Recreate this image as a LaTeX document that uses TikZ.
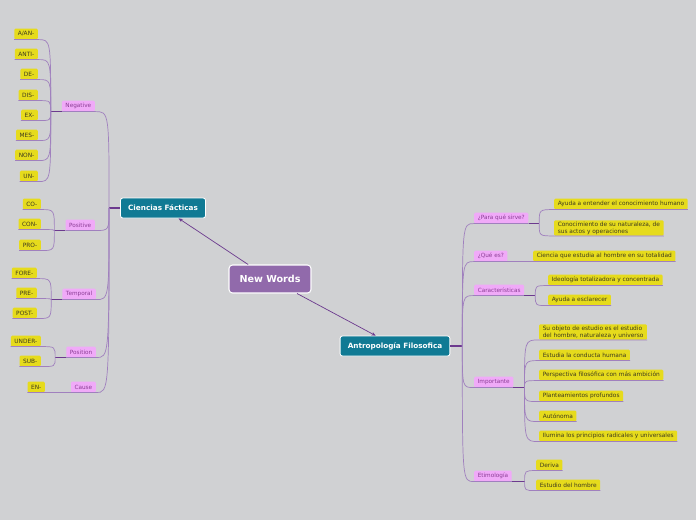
\documentclass[tikz,border=0pt]{standalone}
\usepackage{fontspec}
\setmainfont{DejaVu Sans}
\usetikzlibrary{arrows.meta,calc}
\definecolor{mmgray}{RGB}{208,209,211}
\definecolor{mmyellow}{RGB}{230,219,28}
\definecolor{mmpink}{RGB}{240,170,248}
\definecolor{mmteal}{RGB}{16,122,148}
\definecolor{mmviolet}{RGB}{145,106,171}
\definecolor{mmline}{RGB}{160,128,190}
\definecolor{mmdark}{RGB}{108,58,142}
\definecolor{mmtext}{RGB}{62,58,30}
\definecolor{mmpinktext}{RGB}{140,62,150}

\tikzset{
  rootbox/.style={fill=mmviolet, draw=white, line width=0.9pt, rounded corners=3pt, minimum width=2.46cm, minimum height=0.84cm, text=white, font=\fontsize{8.2}{9}\selectfont\bfseries},
  topicbox/.style={fill=mmteal, draw=white, line width=0.7pt, rounded corners=2pt, minimum height=0.6cm, inner xsep=0.23cm, text=white, font=\fontsize{6.2}{7}\selectfont\bfseries},
  tagbox/.style={fill=mmpink, rounded corners=1pt, minimum height=0.32cm, inner xsep=3pt, inner ysep=1pt, text=mmpinktext, font=\fontsize{4.9}{5.6}\selectfont},
  leafbox/.style={fill=mmyellow, rounded corners=1pt, minimum height=0.32cm, inner xsep=3pt, inner ysep=1.2pt, align=left, text=mmtext, font=\fontsize{5}{5.9}\selectfont},
  branch/.style={draw=mmline, line width=0.6pt},
  stem/.style={draw=mmdark, line width=1.1pt},
  link/.style={draw=mmdark, line width=0.6pt, -{Stealth[length=3.5pt,width=3pt]}},
}

\begin{document}
\begin{tikzpicture}[x=0.03cm, y=-0.03cm]
  \useasboundingbox[fill=mmgray] (0,0) rectangle (696,520);

  %% Main nodes
  \node[rootbox]  (nw) at (270,279) {New Words};
  \node[topicbox] (cf) at (163,208) {Ciencias Fácticas};
  \node[topicbox] (af) at (395,346) {Antropología Filosofica};

  \draw[link] (nw) -- (cf);
  \draw[link] (nw) -- (af);

  %% Ciencias Facticas: groups
  \node[tagbox, anchor=east] (neg) at (95,106) {Negative};
  \node[tagbox, anchor=east] (pos) at (95,225) {Positive};
  \node[tagbox, anchor=east] (tem) at (96,294) {Temporal};
  \node[tagbox, anchor=east] (psn) at (96,352) {Position};
  \node[tagbox, anchor=east] (cau) at (96,387) {Cause};

  %% Prefixes
  \node[leafbox, anchor=east] (aan)  at (38,34)  {A/AN-};
  \node[leafbox, anchor=east] (anti) at (38,54)  {ANTI-};
  \node[leafbox, anchor=east] (de)   at (38,74)  {DE-};
  \node[leafbox, anchor=east] (dis)  at (38,95)  {DIS-};
  \node[leafbox, anchor=east] (ex)   at (38,115) {EX-};
  \node[leafbox, anchor=east] (mes)  at (38,135) {MES-};
  \node[leafbox, anchor=east] (non)  at (38,155) {NON-};
  \node[leafbox, anchor=east] (un)   at (38,176) {UN-};

  \node[leafbox, anchor=east] (co)   at (41,204) {CO-};
  \node[leafbox, anchor=east] (con)  at (41,224) {CON-};
  \node[leafbox, anchor=east] (pro)  at (41,245) {PRO-};

  \node[leafbox, anchor=east] (fore) at (37,273) {FORE-};
  \node[leafbox, anchor=east] (pre)  at (37,293) {PRE-};
  \node[leafbox, anchor=east] (post) at (37,313) {POST-};

  \node[leafbox, anchor=east] (under) at (41,341) {UNDER-};
  \node[leafbox, anchor=east] (sub)   at (41,361) {SUB-};

  \node[leafbox, anchor=east] (en)   at (45,387) {EN-};

  %% Junctions (left)
  \coordinate (cfj)  at ([xshift=-0.33cm]cf.west);
  \coordinate (negj) at ([xshift=-0.33cm]neg.south west);
  \coordinate (posj) at ([xshift=-0.33cm]pos.south west);
  \coordinate (temj) at ([xshift=-0.33cm]tem.south west);
  \coordinate (psnj) at ([xshift=-0.33cm]psn.south west);

  \draw[stem] (cf.west) -- (cfj);
  \draw[branch] (cfj) .. controls (cfj |- neg.south east) .. (neg.south east) -- (neg.south west);
  \draw[branch] (cfj) .. controls (cfj |- pos.south east) .. (pos.south east) -- (pos.south west);
  \draw[branch] (cfj) .. controls (cfj |- tem.south east) .. (tem.south east) -- (tem.south west);
  \draw[branch] (cfj) .. controls (cfj |- psn.south east) .. (psn.south east) -- (psn.south west);
  \draw[branch] (cfj) .. controls (cfj |- cau.south east) .. (cau.south east) -- (cau.south west) -- (en.south east) -- (en.south west);

  \draw[stem] (neg.south west) -- (negj);
  \draw[branch] (negj) .. controls (negj |- aan.south east) .. (aan.south east) -- (aan.south west);
  \draw[branch] (negj) .. controls (negj |- anti.south east) .. (anti.south east) -- (anti.south west);
  \draw[branch] (negj) .. controls (negj |- de.south east) .. (de.south east) -- (de.south west);
  \draw[branch] (negj) .. controls (negj |- dis.south east) .. (dis.south east) -- (dis.south west);
  \draw[branch] (negj) .. controls (negj |- ex.south east) .. (ex.south east) -- (ex.south west);
  \draw[branch] (negj) .. controls (negj |- mes.south east) .. (mes.south east) -- (mes.south west);
  \draw[branch] (negj) .. controls (negj |- non.south east) .. (non.south east) -- (non.south west);
  \draw[branch] (negj) .. controls (negj |- un.south east) .. (un.south east) -- (un.south west);

  \draw[stem] (pos.south west) -- (posj);
  \draw[branch] (posj) .. controls (posj |- co.south east) .. (co.south east) -- (co.south west);
  \draw[branch] (posj) .. controls (posj |- con.south east) .. (con.south east) -- (con.south west);
  \draw[branch] (posj) .. controls (posj |- pro.south east) .. (pro.south east) -- (pro.south west);

  \draw[stem] (tem.south west) -- (temj);
  \draw[branch] (temj) .. controls (temj |- fore.south east) .. (fore.south east) -- (fore.south west);
  \draw[branch] (temj) .. controls (temj |- pre.south east) .. (pre.south east) -- (pre.south west);
  \draw[branch] (temj) .. controls (temj |- post.south east) .. (post.south east) -- (post.south west);

  \draw[stem] (psn.south west) -- (psnj);
  \draw[branch] (psnj) .. controls (psnj |- under.south east) .. (under.south east) -- (under.south west);
  \draw[branch] (psnj) .. controls (psnj |- sub.south east) .. (sub.south east) -- (sub.south west);

  %% Antropologia Filosofica: groups
  \node[tagbox, anchor=west] (ps)  at (474,218) {¿Para qué sirve?};
  \node[tagbox, anchor=west] (qe)  at (474,256) {¿Qué es?};
  \node[tagbox, anchor=west] (car) at (474,290) {Características};
  \node[tagbox, anchor=west] (imp) at (474,382) {Importante};
  \node[tagbox, anchor=west] (eti) at (474,476) {Etimología};

  %% Details
  \node[leafbox, anchor=west] (ps1) at (554,204) {Ayuda a entender el conocimiento humano};
  \node[leafbox, anchor=west] (ps2) at (554,228) {Conocimiento de su naturaleza, de\\sus actos y operaciones};
  \node[leafbox, anchor=west] (qe1) at (533,256) {Ciencia que estudia al hombre en su totalidad};
  \node[leafbox, anchor=west] (car1) at (548,280) {Ideología totalizadora y concentrada};
  \node[leafbox, anchor=west] (car2) at (548,300) {Ayuda a esclarecer};
  \node[leafbox, anchor=west] (imp1) at (539,332) {Su objeto de estudio es el estudio\\del hombre, naturaleza y universo};
  \node[leafbox, anchor=west] (imp2) at (539,355) {Estudia la conducta humana};
  \node[leafbox, anchor=west] (imp3) at (539,375) {Perspectiva filosófica con más ambición};
  \node[leafbox, anchor=west] (imp4) at (539,396) {Planteamientos profundos};
  \node[leafbox, anchor=west] (imp5) at (539,416) {Autónoma};
  \node[leafbox, anchor=west] (imp6) at (539,436) {Ilumina los principios radicales y universales};
  \node[leafbox, anchor=west] (eti1) at (536,465) {Deriva};
  \node[leafbox, anchor=west] (eti2) at (536,485) {Estudio del hombre};

  %% Junctions (right)
  \coordinate (afj)  at ([xshift=0.36cm]af.east);
  \coordinate (psj)  at ([xshift=0.32cm]ps.south east);
  \coordinate (carj) at ([xshift=0.33cm]car.south east);
  \coordinate (impj) at ([xshift=0.33cm]imp.south east);
  \coordinate (etij) at ([xshift=0.38cm]eti.south east);

  \draw[stem] (af.east) -- (afj);
  \draw[branch] (afj) .. controls (afj |- ps.south west) .. (ps.south west) -- (ps.south east);
  \draw[branch] (afj) .. controls (afj |- qe.south west) .. (qe.south west) -- (qe.south east) -- (qe1.south west) -- (qe1.south east);
  \draw[branch] (afj) .. controls (afj |- car.south west) .. (car.south west) -- (car.south east);
  \draw[branch] (afj) .. controls (afj |- imp.south west) .. (imp.south west) -- (imp.south east);
  \draw[branch] (afj) .. controls (afj |- eti.south west) .. (eti.south west) -- (eti.south east);

  \draw[stem] (ps.south east) -- (psj);
  \draw[branch] (psj) .. controls (psj |- ps1.south west) .. (ps1.south west) -- (ps1.south east);
  \draw[branch] (psj) .. controls (psj |- ps2.south west) .. (ps2.south west) -- (ps2.south east);

  \draw[stem] (car.south east) -- (carj);
  \draw[branch] (carj) .. controls (carj |- car1.south west) .. (car1.south west) -- (car1.south east);
  \draw[branch] (carj) .. controls (carj |- car2.south west) .. (car2.south west) -- (car2.south east);

  \draw[stem] (imp.south east) -- (impj);
  \draw[branch] (impj) .. controls (impj |- imp1.south west) .. (imp1.south west) -- (imp1.south east);
  \draw[branch] (impj) .. controls (impj |- imp2.south west) .. (imp2.south west) -- (imp2.south east);
  \draw[branch] (impj) .. controls (impj |- imp3.south west) .. (imp3.south west) -- (imp3.south east);
  \draw[branch] (impj) .. controls (impj |- imp4.south west) .. (imp4.south west) -- (imp4.south east);
  \draw[branch] (impj) .. controls (impj |- imp5.south west) .. (imp5.south west) -- (imp5.south east);
  \draw[branch] (impj) .. controls (impj |- imp6.south west) .. (imp6.south west) -- (imp6.south east);

  \draw[stem] (eti.south east) -- (etij);
  \draw[branch] (etij) .. controls (etij |- eti1.south west) .. (eti1.south west) -- (eti1.south east);
  \draw[branch] (etij) .. controls (etij |- eti2.south west) .. (eti2.south west) -- (eti2.south east);
\end{tikzpicture}
\end{document}
